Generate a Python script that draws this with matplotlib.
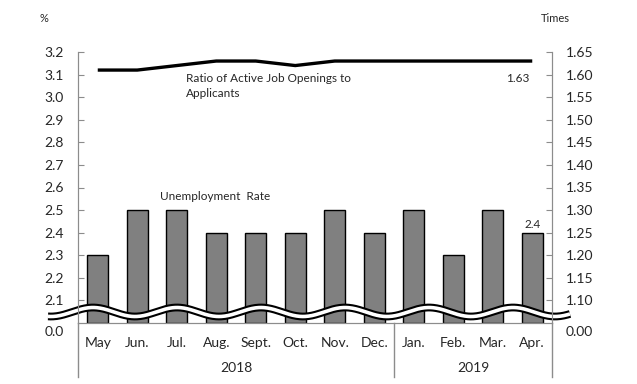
import numpy as np
import matplotlib
matplotlib.use("Agg")
import matplotlib.pyplot as plt
from matplotlib.transforms import blended_transform_factory

plt.rcParams['font.family'] = ['Lato', 'DejaVu Sans']

months = ["May", "Jun.", "Jul.", "Aug.", "Sept.", "Oct.", "Nov.", "Dec.",
          "Jan.", "Feb.", "Mar.", "Apr."]
years = ["2018", "2019"]
year_spans = [(0, 7), (8, 11)]
unemployment = [2.3, 2.5, 2.5, 2.4, 2.4, 2.4, 2.5, 2.4, 2.5, 2.3, 2.5, 2.4]
ratio = [1.61, 1.61, 1.62, 1.63, 1.63, 1.62, 1.63, 1.63, 1.63, 1.63, 1.63, 1.63]
left_ticks = [2.1, 2.2, 2.3, 2.4, 2.5, 2.6, 2.7, 2.8, 2.9, 3.0, 3.1, 3.2]
right_ticks = [1.10, 1.15, 1.20, 1.25, 1.30, 1.35, 1.40, 1.45, 1.50, 1.55, 1.60, 1.65]

W, H = 637, 384
fig = plt.figure(figsize=(W / 100, H / 100), dpi=100)
L, R, B, T = 78, 552, 323, 52
ax = fig.add_axes([L / W, 1 - B / H, (R - L) / W, (B - T) / H])
ax2 = ax.twinx()

gray = "#8c8c8c"
tc = "#262626"
fs = 9

x = np.arange(len(months))
ax.bar(x, [v - 2.0 for v in unemployment], bottom=2.0, width=0.53,
       color="#808080", edgecolor="black", linewidth=1.0, zorder=2)
ax.set_xlim(-0.5, len(months) - 0.5)
ax.set_ylim(2.0, 3.2)
ax.set_yticks(left_ticks)
ax.set_yticklabels([f"{v:.1f}" for v in left_ticks])
ax2.set_ylim(1.05, 1.65)
ax2.set_yticks(right_ticks)
ax2.set_yticklabels([f"{v:.2f}" for v in right_ticks])

ax2.plot(x, ratio, color="black", linewidth=2.4, zorder=3, solid_capstyle="butt")

for a in (ax, ax2):
    for s in a.spines.values():
        s.set_color(gray)
    a.spines['top'].set_visible(False)
ax.tick_params(axis='y', direction='in', length=4, color=gray, labelsize=fs + 1,
               labelcolor=tc, pad=10)
ax2.tick_params(axis='y', direction='in', length=4, color=gray, labelsize=fs + 1,
                labelcolor=tc, pad=10)
ax.set_xticks(x)
ax.set_xticklabels(months)
ax.tick_params(axis='x', length=0, labelsize=fs + 1, labelcolor=tc, pad=10)

# break wave (decoration)
px2d = lambda px: (px - L) / 39.5 - 0.5
wx = np.linspace(px2d(48), px2d(570), 600)
period = 84 / 39.5
phase = px2d(513)
wy = 2.0 + 11 * (0.1 / 22.6) + 4.5 * (0.1 / 22.6) * np.cos(2 * np.pi * (wx - phase) / period)
ax.plot(wx, wy, color="black", linewidth=5.6, clip_on=False, zorder=4,
        solid_capstyle="butt")
ax.plot(wx, wy, color="white", linewidth=2.6, clip_on=False, zorder=5,
        solid_capstyle="butt")

# zero labels
fig.text((L - 14) / W, 1 - 332 / H, "0.0", ha="right", va="center", fontsize=fs + 1, color=tc)
fig.text((R + 14) / W, 1 - 332 / H, "0.00", ha="left", va="center", fontsize=fs + 1, color=tc)

# group lines and year labels
tr = blended_transform_factory(ax.transData, fig.transFigure)
for xs in (-0.5, 7.5, 11.5):
    ax.plot([xs, xs], [1 - B / H, 1 - 377 / H], transform=tr, color=gray,
            linewidth=1.0, clip_on=False)
for lab, (a0, a1) in zip(years, year_spans):
    fig.text(0, 1 - 368 / H, lab, transform=tr, ha="center", va="center",
             fontsize=fs + 1, color=tc).set_x((a0 + a1) / 2)

# axis titles
fig.text(44 / W, 1 - 19 / H, "%", ha="center", va="center", fontsize=fs - 1, color=tc)
fig.text(555 / W, 1 - 19 / H, "Times", ha="center", va="center", fontsize=fs - 1, color=tc)

# annotations
fig.text(186 / W, 1 - 86 / H, "Ratio of Active Job Openings to\nApplicants", ha="left",
         va="center", fontsize=fs - 0.5, color=tc, linespacing=1.35)
fig.text(506 / W, 1 - 78 / H, "1.63", ha="left", va="center", fontsize=fs - 0.5, color=tc)
fig.text(160 / W, 1 - 197 / H, "Unemployment  Rate", ha="left", va="center",
         fontsize=fs - 0.5, color=tc)
ax.text(11, 2.4 + 0.012, "2.4", ha="center", va="bottom", fontsize=fs - 0.5, color=tc)

fig.savefig("out.png", dpi=100)
